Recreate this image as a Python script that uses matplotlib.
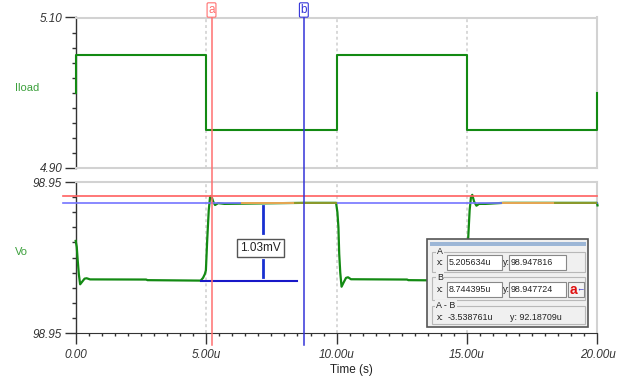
import matplotlib
matplotlib.use("Agg")
import matplotlib.pyplot as plt
from matplotlib import transforms
from matplotlib.patches import Rectangle
from matplotlib.ticker import FuncFormatter, MultipleLocator

plt.rcParams['font.family'] = ['Liberation Sans', 'DejaVu Sans']

W, H = 637, 381

# time in microseconds
iload_t = [0.0, 0.0, 5.0, 5.0, 10.0, 10.0, 15.0, 15.0, 20.0, 20.0]
iload_v = [5.00, 5.05, 5.05, 4.95, 4.95, 5.05, 5.05, 4.95, 4.95, 5.00]

vo_t = [0.00, 0.04, 0.08, 0.12, 0.17, 0.25, 0.34, 0.42, 0.55, 2.70, 2.75, 4.79,
        4.88, 4.95, 4.99, 5.04, 5.10, 5.15, 5.20, 5.27, 5.34, 5.46, 5.70, 8.74, 9.98,
        10.03, 10.07, 10.10, 10.14, 10.19, 10.27, 10.36, 10.44, 10.55, 12.70, 12.75, 14.79,
        14.88, 14.95, 14.99, 15.04, 15.10, 15.15, 15.20, 15.27, 15.36, 15.46, 15.70, 16.40,
        19.98, 20.00]
vo_v = [98.94722, 98.94714, 98.94695, 98.94678, 98.946645, 98.94668, 98.94672, 98.946725,
        98.94671, 98.946708, 98.946700, 98.946694,
        98.94673, 98.94678, 98.94683, 98.94723, 98.94763, 98.94780, 98.947816, 98.94774,
        98.947695, 98.94772, 98.94771, 98.947724, 98.947724,
        98.94760, 98.94740, 98.94705, 98.94680, 98.946613, 98.94667, 98.94673, 98.946738,
        98.946712, 98.946708, 98.946700, 98.946694,
        98.94673, 98.94678, 98.94683, 98.94723, 98.94763, 98.94780, 98.94783, 98.94774,
        98.947686, 98.94771, 98.94771, 98.947724,
        98.947724, 98.94769]

# overlapping traces on the settled level
orange_t = [(6.36, 8.40), (16.36, 18.37)]
olive_t = [(8.40, 9.98), (18.37, 19.99)]
hi_level = 98.947724
lo_level = 98.946694
lo_span = (4.79, 8.47)
dim_t = 7.165
dim_label_v = 98.947126

cursor_a_t, cursor_a_v = 5.205634, 98.947816
cursor_b_t = 8.744395
cursor_b_v = cursor_a_v - 92.18709e-6

green = '#138a13'
label_green = '#3ca03c'
tick_col = '#333333'
frame_col = '#d2d2d2'
panel_bg = '#f0f0f0'

fig = plt.figure(figsize=(W / 100, H / 100), dpi=100)
ax1 = fig.add_axes([75.7 / W, 1 - 168 / H, 521.8 / W, 150.5 / H])
ax2 = fig.add_axes([75.7 / W, 1 - 333 / H, 521.8 / W, 151 / H])

for ax in (ax1, ax2):
    ax.set_xlim(0, 20)
    for s in ('top', 'right'):
        ax.spines[s].set_color(frame_col)
        ax.spines[s].set_linewidth(1.5)
    ax.spines['left'].set_color(tick_col)
    ax.spines['left'].set_linewidth(1.0)
    for g in (5, 10, 15):
        ax.axvline(g, color='#d8d8d8', lw=1.4, ls=(0, (1.5, 1.5)), zorder=0)
    ax.tick_params(axis='y', which='major', length=7.7, width=1, color=tick_col,
                   labelsize=8.5, labelcolor=tick_col, pad=2)
    ax.tick_params(axis='y', which='minor', length=3, width=1, color=tick_col)

ax1.set_ylim(4.90, 5.10)
ax1.set_yticks([4.90, 5.10])
ax1.yaxis.set_minor_locator(MultipleLocator(0.02))
ax1.yaxis.set_major_formatter(FuncFormatter(lambda v, p: f"{v:.2f}"))
ax1.spines['bottom'].set_color(frame_col)
ax1.spines['bottom'].set_linewidth(1.5)
ax1.set_xticks([])
ax1.tick_params(axis='x', which='both', bottom=False, labelbottom=False)

ax2.set_ylim(98.946, 98.948)
ax2.set_yticks([98.946, 98.948])
ax2.yaxis.set_minor_locator(MultipleLocator(0.0002))
ax2.yaxis.set_major_formatter(FuncFormatter(lambda v, p: f"{v:.2f}"))
ax2.spines['bottom'].set_color(tick_col)
ax2.set_xticks([0, 5, 10, 15, 20])
ax2.xaxis.set_minor_locator(MultipleLocator(0.5))
ax2.xaxis.set_major_formatter(FuncFormatter(lambda v, p: "0.00" if v == 0 else f"{v:.2f}u"))
ax2.tick_params(axis='x', which='major', length=8, width=1, color=tick_col,
                labelsize=8.5, labelcolor=tick_col, pad=3.5)
ax2.tick_params(axis='x', which='minor', length=2.2, width=1, color=tick_col)
for ax in (ax1, ax2):
    for lab in ax.get_yticklabels() + ax.get_xticklabels():
        lab.set_fontstyle('italic')

# traces
ax1.plot(iload_t, iload_v, color=green, lw=1.5, zorder=3, clip_on=False)
ax2.plot(vo_t, vo_v, color=green, lw=1.6, zorder=3, clip_on=False)

# horizontal cursor levels
ax2.plot([-0.49, 20], [cursor_a_v, cursor_a_v], color='#ff6060', lw=1.2, zorder=4, clip_on=False)
ax2.plot([-0.49, 20], [cursor_b_v, cursor_b_v], color='#7474ff', lw=1.2, zorder=4, clip_on=False)
for a, b in orange_t:
    ax2.plot([a, b], [hi_level, hi_level], color='#e8a850', lw=1.4, zorder=5)
for a, b in olive_t:
    ax2.plot([a, b], [hi_level, hi_level], color='#8c9a28', lw=1.4, zorder=5)

# vertical cursors across both panels
blend = transforms.blended_transform_factory(ax2.transData, fig.transFigure)
for t, col, tag in ((cursor_a_t, '#ff7070', 'a'), (cursor_b_t, '#3434d8', 'b')):
    ax2.plot([t, t], [1 - 345 / H, 1 - 16 / H], color=col, lw=1.1, transform=blend,
             clip_on=False, zorder=6)
    ax2.text(t, 1 - 10 / H, tag, transform=blend, color=col, fontsize=8.5,
             ha='center', va='center', zorder=7,
             bbox=dict(boxstyle='round,pad=0.1', fc='white', ec=col, lw=0.8))

# 1.03mV measurement
ax2.plot(lo_span, [lo_level, lo_level], color='#1818c8', lw=1.5, zorder=5)
span = hi_level - lo_level
ax2.plot([dim_t, dim_t], [hi_level - 0.04 * span, hi_level - 0.39 * span],
         color='#1830d0', lw=2, zorder=5)
ax2.plot([dim_t, dim_t], [lo_level + 0.26 * span, lo_level + 0.04 * span],
         color='#1830d0', lw=2, zorder=5)
ax2.text(dim_t - 0.07, dim_label_v, f"{span * 1000:.2f}mV", fontsize=8.5,
         color='#222222', ha='center', va='center', zorder=6,
         bbox=dict(boxstyle='square,pad=0.25', fc='white', ec='#555555', lw=1))

# axis titles
fig.text(15 / W, 1 - 88 / H, 'Iload', color=label_green, fontsize=8, va='center')
fig.text(15 / W, 1 - 252 / H, 'Vo', color=label_green, fontsize=8, va='center')
fig.text(351 / W, 1 - 370 / H, 'Time (s)', color='#222222', fontsize=8.5, ha='center', va='center')


# cursor readout panel
def px_rect(x0, y0, x1, y1, **kw):
    fig.add_artist(Rectangle((x0 / W, 1 - y1 / H), (x1 - x0) / W, (y1 - y0) / H,
                             transform=fig.transFigure, **kw))


def px_text(x, y, s, **kw):
    kw.setdefault('fontsize', 6.4)
    kw.setdefault('color', '#222222')
    fig.text(x / W, 1 - y / H, s, va='center', zorder=12, **kw)


def group_title(x, y, s):
    px_text(x, y, s, bbox=dict(boxstyle='square,pad=0.15', fc=panel_bg, ec='none'))


px_rect(427, 239, 588, 327, fc=panel_bg, ec='#555555', lw=1.2, zorder=10)
px_rect(429.5, 241.5, 585.5, 246, fc='#9cb6d6', ec='none', zorder=11)
for y0, y1 in ((252, 272), (277, 300), (306, 324)):
    px_rect(431.5, y0, 584.5, y1, fc='none', ec='#b8b8b8', lw=0.8, zorder=11)

group_title(437, 251.5, 'A')
px_text(436.5, 262.5, 'x:')
px_rect(446.7, 255, 501.7, 269.5, fc='white', ec='#888888', lw=0.8, zorder=11)
px_text(448.5, 262.5, f"{cursor_a_t:.6f}u")
px_text(502.5, 262.5, 'y:')
px_rect(509.3, 255, 565.7, 269.5, fc='white', ec='#888888', lw=0.8, zorder=11)
px_text(511, 262.5, f"{cursor_a_v:.6f}")

group_title(437, 277, 'B')
px_text(436.5, 289, 'x:')
px_rect(446.7, 281.7, 501.7, 296.7, fc='white', ec='#888888', lw=0.8, zorder=11)
px_text(448.5, 289, f"{cursor_b_t:.6f}u")
px_text(502.5, 289, 'y:')
px_rect(509.3, 281.7, 565.7, 296.7, fc='white', ec='#888888', lw=0.8, zorder=11)
px_text(511, 289, f"{cursor_b_v:.6f}")
px_rect(568, 281.7, 584, 297.3, fc='#f4f4f4', ec='#888888', lw=0.8, zorder=11)
px_text(569.5, 289.5, 'a', color='#e01010', fontsize=10, fontweight='bold')
px_text(576.5, 289.5, '←', color='#2020c0', fontsize=6)

group_title(436, 306, 'A - B')
px_text(436.5, 317, 'x:')
px_text(448, 317, f"{cursor_a_t - cursor_b_t:.6f}u")
px_text(510.5, 317, f"y: {(cursor_a_v - cursor_b_v) * 1e6:.5f}u")

fig.savefig('out.png', dpi=100)
